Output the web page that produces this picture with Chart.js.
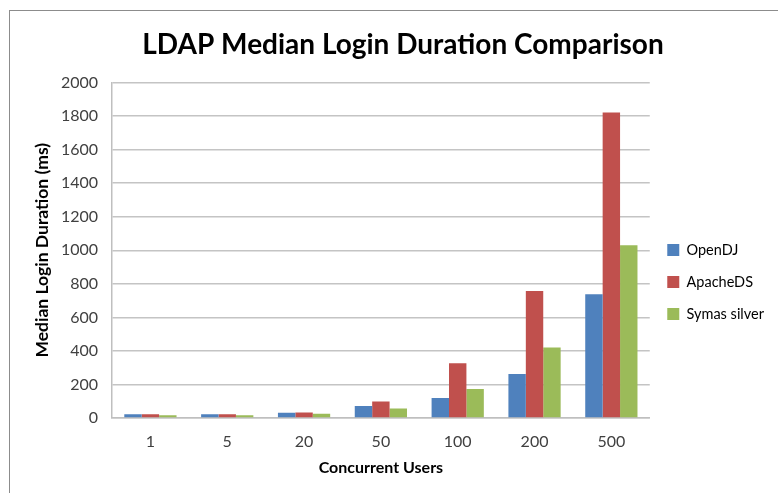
<!DOCTYPE html>
<html>
<head>
<meta charset="utf-8">
<script src="https://cdn.jsdelivr.net/npm/chart.js@4/dist/chart.umd.min.js"></script>
<style>
    body { margin: 0; background: #fff; }
    #wrap { position: relative; width: 778px; height: 493px; overflow: hidden; }
    #frame { position: absolute; left: 9px; top: 10px; width: 800px; height: 500px; border: 1.5px solid #8c8c8c; }
    canvas { position: absolute; left: 0; top: 0; }
</style>
</head>
<body>
<div id="wrap">
    <div id="frame"></div>
    <canvas id="loginChart" width="778" height="493"></canvas>
</div>
<script>
"use strict";

// Categories and series
var users = ["1", "5", "20", "50", "100", "200", "500"];
var openDJ = [22, 22, 32, 71, 119, 262, 738];
var apacheDS = [22, 22, 33, 99, 327, 758, 1821];
var symasSilver = [16, 16, 26, 56, 173, 421, 1030];

var fontFamily = "Lato, 'Open Sans', sans-serif";

window.onload = function() {

    var config = {
        type: "bar",
        data: {
            labels: users,
            datasets: [
                { label: "OpenDJ", data: openDJ, backgroundColor: "#4f81bd" },
                { label: "ApacheDS", data: apacheDS, backgroundColor: "#c0504d" },
                { label: "Symas silver", data: symasSilver, backgroundColor: "#9bbb59" }
            ]
        },
        options: {
            responsive: false,
            animation: false,
            datasets: {
                bar: {
                    categoryPercentage: 0.68,
                    barPercentage: 1.0,
                    borderWidth: 0
                }
            },
            layout: {
                padding: { left: 32, right: 4, top: 0, bottom: 16 }
            },
            plugins: {
                title: {
                    display: true,
                    text: "LDAP Median Login Duration Comparison",
                    color: "#000",
                    font: { family: fontFamily, size: 28, weight: "bold" },
                    padding: { top: 28, bottom: 21 }
                },
                legend: {
                    position: "right",
                    align: "center",
                    // empty title only pushes the items down a bit
                    title: {
                        display: true,
                        text: " ",
                        font: { family: fontFamily, size: 14 },
                        padding: { top: 0, bottom: 70 }
                    },
                    labels: {
                        color: "#000",
                        font: { family: fontFamily, size: 14.5 },
                        boxWidth: 12,
                        boxHeight: 12,
                        padding: 17.5
                    }
                },
                tooltip: { enabled: false }
            },
            scales: {
                x: {
                    grid: { display: false, drawTicks: false },
                    border: { color: "#bfbfbf", width: 1.5 },
                    ticks: {
                        color: "#404040",
                        font: { family: fontFamily, size: 16 },
                        padding: 14
                    },
                    title: {
                        display: true,
                        text: "Concurrent Users",
                        color: "#000",
                        font: { family: fontFamily, size: 16, weight: "bold" },
                        padding: { top: 0, bottom: 0 }
                    },
                    afterFit: function(scale) {
                        scale.height = 493 - 16 - 418;
                    }
                },
                y: {
                    min: 0,
                    max: 2000,
                    grid: { color: "#c4c4c4", lineWidth: 1.5, drawTicks: false },
                    border: { color: "#bfbfbf", width: 1.5 },
                    ticks: {
                        stepSize: 200,
                        color: "#404040",
                        font: { family: fontFamily, size: 16 },
                        padding: 14,
                        callback: function(value) { return String(value); }
                    },
                    title: {
                        display: true,
                        text: "Median Login Duration (ms)",
                        color: "#000",
                        font: { family: fontFamily, size: 17.5, weight: "bold" },
                        padding: { top: 0, bottom: 0 }
                    },
                    afterFit: function(scale) {
                        scale.width = 112 - 32;
                    }
                }
            }
        }
    };

    var ctx = document.getElementById("loginChart").getContext("2d");
    new Chart(ctx, config);
};
</script>
</body>
</html>
